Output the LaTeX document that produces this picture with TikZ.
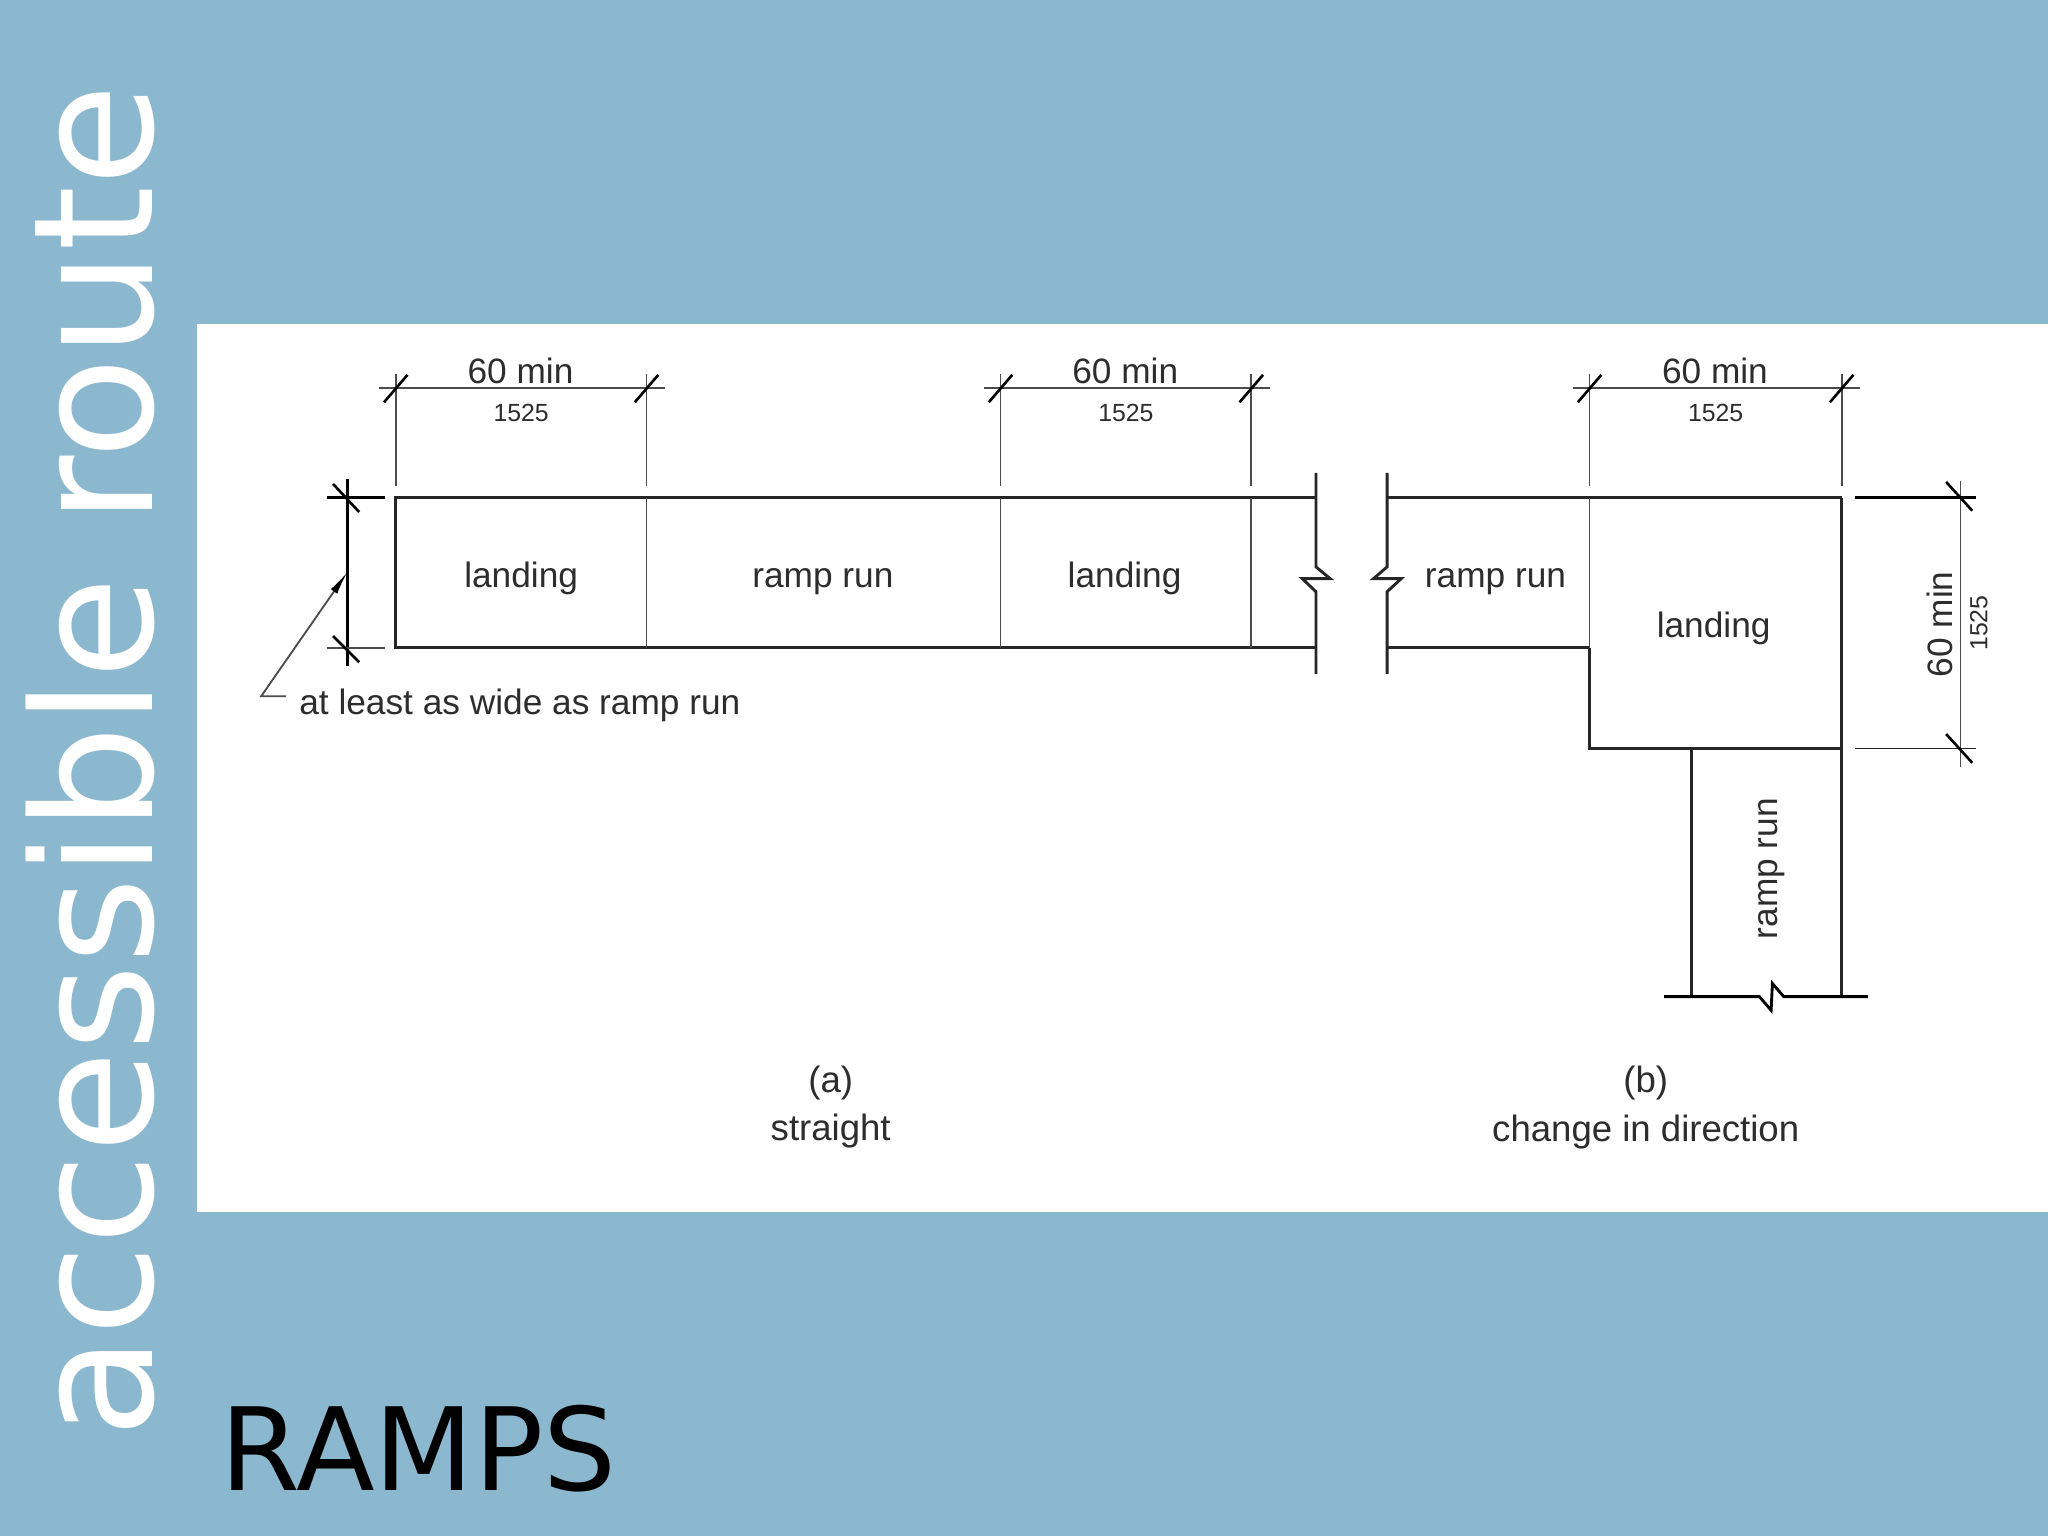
\documentclass[tikz,border=0pt]{standalone}
\usepackage{fontspec}
\setmainfont{Liberation Sans}
\newfontfamily\slidefont{DejaVu Sans}
\usetikzlibrary{calc,arrows.meta}
\definecolor{slideblue}{RGB}{140,184,207}
\definecolor{inkgray}{RGB}{45,45,45}
\tikzset{
  wall/.style={line width=2.2pt,color=black!85},
  partition/.style={line width=1.3pt,color=black!70},
  dimline/.style={line width=1.4pt,color=black!70},
  dimtick/.style={line width=2pt,color=black},
  bigtext/.style={inkgray,font=\fontsize{27}{27}\selectfont,inner sep=0pt},
  smalltext/.style={inkgray,font=\fontsize{19}{19}\selectfont,inner sep=0pt},
  caption/.style={inkgray,font=\fontsize{28}{28}\selectfont,inner sep=0pt}
}
\begin{document}
\begin{tikzpicture}[x=1pt,y=-1pt]
    \useasboundingbox (0,0) rectangle (1568,1176);
    \fill[slideblue] (0,0) rectangle (1568,1176);
    \fill[white] (151,248) rectangle (1568,928);

    % Folientitel
    \node[white,font=\slidefont\fontsize{127.5}{127.5}\selectfont,rotate=90,anchor=base,inner sep=0pt] (route) at (117,583) {accessible route};
    \node[black,font=\slidefont\fontsize{88}{88}\selectfont,anchor=base west,inner sep=0pt] (ramps) at (169,1141) {RAMPS};

    % Rampe gerade
    \draw[wall] (1007,381) -- (303,381) -- (303,496) -- (1007,496);
    \foreach \x in {495,766,958} {
      \draw[partition] (\x,381) -- (\x,496);
    }
    \draw[wall] (1007.5,362) -- (1007.5,434) -- (1018.4,443) -- (997,443) -- (1007.5,453) -- (1007.5,516);

    % Rampe mit Richtungswechsel
    \draw[wall] (1062,362) -- (1062,434) -- (1051.6,443) -- (1072.8,443) -- (1062,453) -- (1062,516);
    \draw[wall] (1062,381) -- (1410,381);
    \draw[wall] (1062,496) -- (1217,496);
    \draw[partition] (1217,381) -- (1217,496);
    \draw[wall] (1217,496) -- (1217,573) -- (1295,573);
    \draw[partition,line width=1.7pt,color=black!85] (1295,573) -- (1410,573);
    \draw[wall] (1295,573) -- (1295,762);
    \draw[wall] (1410,381) -- (1410,762);
    \draw[wall,color=black] (1274,763) -- (1347,763) -- (1356,773.5) -- (1357,753) -- (1365.6,763) -- (1430,763);

    % Maße oben
    \foreach \xa/\xb/\n in {303/495/a,766/958/b,1217/1410/c} {
      \pgfmathsetmacro{\xm}{(\xa+\xb)/2}
      \draw[dimline] (\xa,286) -- (\xa,372);
      \draw[dimline] (\xb,286) -- (\xb,372);
      \draw[dimline] (\xa-13,297) -- (\xb+14,297);
      \draw[dimtick] (\xa-9,308) -- (\xa+9,287);
      \draw[dimtick] (\xb-9,308) -- (\xb+9,287);
      \node[bigtext] (min\n) at (\xm-0.5,284) {60 min};
      \node[smalltext] (mm\n) at (\xm,316) {1525};
    }

    % Maß links
    \draw[dimtick] (266,367) -- (266,510);
    \draw[dimtick] (250,381) -- (295,381);
    \draw[dimline] (250,496) -- (295,496);
    \draw[dimtick] (255,370.5) -- (275,392);
    \draw[dimtick] (255,487) -- (275,507);

    % Hinweis
    \node[bigtext,anchor=base west] (hint) at (229,547) {at least as wide as ramp run};
    \coordinate (hintend) at (219,533);
    \coordinate (hintknee) at (200,533);
    \coordinate (hinttip) at (266,438);
    \draw[dimline,-{Latex[length=18pt,width=6pt,black]}] (hintend) -- (hintknee) -- (hinttip);

    % Maß rechts
    \draw[dimline] (1501,368) -- (1501,587);
    \draw[dimtick] (1420,381) -- (1513,381);
    \draw[dimline,color=black!85] (1420,573) -- (1513,573);
    \draw[dimtick] (1490,369) -- (1510,391);
    \draw[dimtick] (1490,562) -- (1510,584);
    \node[bigtext,rotate=90] (minr) at (1485,478) {60 min};
    \node[smalltext,rotate=90] (mmr) at (1515,477) {1525};

    % Beschriftung
    \node[bigtext,anchor=base] (landa) at (399,450) {landing};
    \node[bigtext,anchor=base] (runa) at (630,450) {ramp run};
    \node[bigtext,anchor=base] (landb) at (861,450) {landing};
    \node[bigtext,anchor=base] (runb) at (1145,450) {ramp run};
    \node[bigtext,anchor=base] (landc) at (1312,488) {landing};
    \node[bigtext,rotate=90,anchor=base] (runc) at (1361,665) {ramp run};

    \node[caption] (capa) at (636,829) {(a)};
    \node[caption,anchor=base] (straight) at (636,873) {straight};
    \node[caption] (capb) at (1260,829) {(b)};
    \node[caption,anchor=base] (change) at (1260,874) {change in direction};
\end{tikzpicture}
\end{document}
